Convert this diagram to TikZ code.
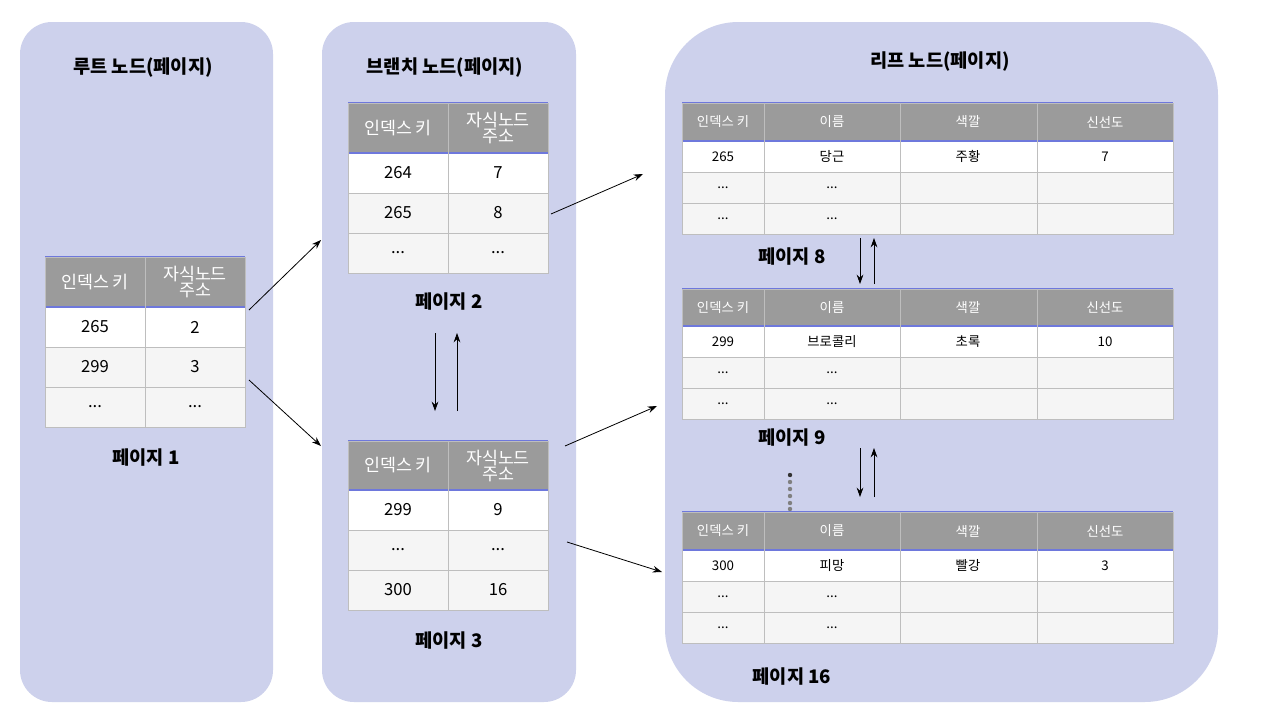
\documentclass[tikz,border=0pt]{standalone}
\usepackage{fontspec}
\setmainfont{Noto Sans CJK KR}
\usetikzlibrary{arrows.meta}
\definecolor{panel}{RGB}{205,209,236}
\definecolor{hdr}{RGB}{155,155,155}
\definecolor{rowg}{RGB}{245,245,245}
\definecolor{gridc}{RGB}{190,190,190}
\definecolor{blu}{RGB}{110,120,220}
\begin{document}
\begin{tikzpicture}[x=0.75pt,y=-0.75pt,
  panel/.style={fill=panel,draw=none},
  ttl/.style={font=\bfseries\fontsize{14}{16}\selectfont},
  pg/.style={font=\bfseries\fontsize{14}{16}\selectfont},
  hc/.style={font=\fontsize{13}{12}\selectfont,text=white,align=center},
  dc/.style={font=\fontsize{12.5}{13}\selectfont},
  hs/.style={font=\fontsize{10}{11}\selectfont,text=white,align=center},
  ds/.style={font=\fontsize{10}{11}\selectfont},
  ar/.style={-{Stealth[length=7pt,width=5pt]},black,line width=0.6pt}]
\useasboundingbox (0,0) rectangle (1280,721);
\fill[white] (0,0) rectangle (1280,721);
\fill[panel,rounded corners=24pt] (20,22) rectangle (273,702);
\fill[panel,rounded corners=24pt] (322,22) rectangle (576,702);
\fill[panel,rounded corners=55pt] (665,22) rectangle (1218,702);
\node[ttl] (t1) at (143,68) {루트 노드(페이지)};
\node[ttl] (t2) at (445,68) {브랜치 노드(페이지)};
\node[ttl] (t3) at (940,62) {리프 노드(페이지)};
\newcommand{\bigtab}[9]{%
 \fill[hdr] (#1,#2) rectangle (#1+200,#3);
 \draw[blu,line width=0.8pt] (#1,#2) -- (#1+200,#2);
 \fill[white] (#1,#3) rectangle (#1+200,#3+#4);
 \fill[rowg] (#1,#3+#4) rectangle (#1+200,#3+3*#4);
 \draw[blu,line width=0.8pt] (#1,#3) -- (#1+200,#3);
 \draw[gridc] (#1,#2) rectangle (#1+200,#3+3*#4);
 \draw[gridc] (#1+100,#2) -- (#1+100,#3+3*#4);
 \draw[gridc] (#1,#3+#4) -- (#1+200,#3+#4);
 \draw[gridc] (#1,#3+2*#4) -- (#1+200,#3+2*#4);
 \node[hc] at (#1+50,#2/2+#3/2) {인덱스 키};
 \node[hc] at (#1+150,#2/2+#3/2) {자식노드\\주소};
 \node[dc] at (#1+50,#3+0.5*#4) {#5};
 \node[dc] at (#1+150,#3+0.5*#4) {#6};
 \node[dc] at (#1+50,#3+1.5*#4) {#7};
 \node[dc] at (#1+150,#3+1.5*#4) {#8};
 #9}
\bigtab{45}{257}{307}{40}{265}{2}{299}{3}{\node[dc] at (95,407){...};\node[dc] at (195,407){...};}
\bigtab{348}{103}{153}{40}{264}{7}{265}{8}{\node[dc] at (398,253){...};\node[dc] at (498,253){...};}
\bigtab{348}{441}{490}{40}{299}{9}{...}{...}{\node[dc] at (398,590){300};\node[dc] at (498,590){16};}
\newcommand{\leaftab}[7]{%
 \fill[hdr] (682,#1) rectangle (1173,#2);
 \draw[blu,line width=0.8pt] (682,#1) -- (1173,#1);
 \fill[white] (682,#2) rectangle (1173,#2+31);
 \fill[rowg] (682,#2+31) rectangle (1173,#2+93);
 \draw[blu,line width=0.8pt] (682,#2) -- (1173,#2);
 \draw[gridc] (682,#1) rectangle (1173,#2+93);
 \foreach \xx in {764,900,1037} \draw[gridc] (\xx,#1) -- (\xx,#2+93);
 \draw[gridc] (682,#2+31) -- (1173,#2+31);
 \draw[gridc] (682,#2+62) -- (1173,#2+62);
 \node[hs] at (723,#1/2+#2/2) {인덱스 키};
 \node[hs] at (832,#1/2+#2/2) {이름};
 \node[hs] at (968,#1/2+#2/2) {색깔};
 \node[hs] at (1105,#1/2+#2/2) {신선도};
 \node[ds] at (723,#2+15.5) {#3};
 \node[ds] at (832,#2+15.5) {#4};
 \node[ds] at (968,#2+15.5) {#5};
 \node[ds] at (1105,#2+15.5) {#6};
 \node[ds] at (723,#2+46.5) {...};\node[ds] at (832,#2+46.5) {...};
 \node[ds] at (723,#2+77.5) {...};\node[ds] at (832,#2+77.5) {...};
 #7}
\leaftab{103}{141}{265}{당근}{주황}{7}{}
\leaftab{289}{326}{299}{브로콜리}{초록}{10}{}
\leaftab{512}{550}{300}{피망}{빨강}{3}{}
\node[pg] (p1) at (146,458) {페이지 1};
\node[pg] (p2) at (449,302) {페이지 2};
\node[pg] (p3) at (449,641) {페이지 3};
\node[pg] (p8) at (792,257) {페이지 8};
\node[pg] (p9) at (792,438) {페이지 9};
\node[pg] (p16) at (792,677) {페이지 16};
\coordinate (a1) at (249,310); \coordinate (b1) at (321,240);
\coordinate (a2) at (249,380); \coordinate (b2) at (321,446);
\coordinate (a3) at (551,214); \coordinate (b3) at (643,174);
\coordinate (a4) at (565,446); \coordinate (b4) at (657,406);
\coordinate (a5) at (567,542); \coordinate (b5) at (662,572);
\foreach \i in {1,...,5} \draw[ar] (a\i) -- (b\i);
\coordinate (v1) at (435,333); \coordinate (v2) at (435,411);
\coordinate (v3) at (457,411); \coordinate (v4) at (457,333);
\draw[ar] (v1) -- (v2); \draw[ar] (v3) -- (v4);
\coordinate (w1) at (860,238); \coordinate (w2) at (860,284);
\coordinate (w3) at (874,284); \coordinate (w4) at (874,238);
\draw[ar] (w1) -- (w2); \draw[ar] (w3) -- (w4);
\coordinate (u1) at (860,448); \coordinate (u2) at (860,497);
\coordinate (u3) at (874,497); \coordinate (u4) at (874,448);
\draw[ar] (u1) -- (u2); \draw[ar] (u3) -- (u4);
\fill[black!80] (790,475) circle (2.2);
\foreach \yy in {482,489,496,503,509} \fill[gray] (790,\yy) circle (2.2);
\end{tikzpicture}
\end{document}
